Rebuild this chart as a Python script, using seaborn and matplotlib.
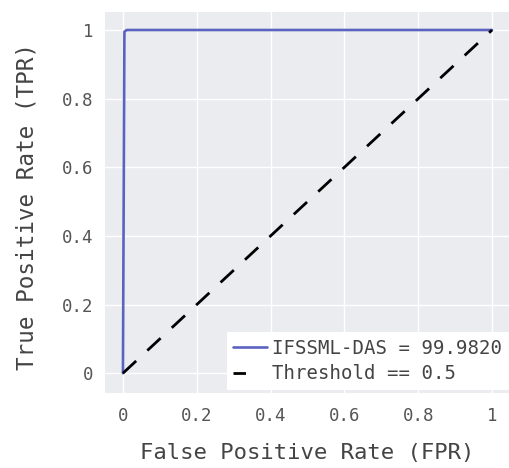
import numpy as np
import pandas as pd
import matplotlib
matplotlib.use('Agg')
import matplotlib.pyplot as plt
import seaborn as sns

# ROC curve
fpr = [0.0, 0.004, 0.01, 0.05, 1.0]
tpr = [0.0, 0.995, 1.0, 1.0, 1.0]
thr_x = [0.0, 1.0]
thr_y = [0.0, 1.0]
model_label = 'IFSSML-DAS = 99.9820'
thr_label = 'Threshold == 0.5'
ticks = [0, 0.2, 0.4, 0.6, 0.8, 1]
tick_labels = ['0', '0.2', '0.4', '0.6', '0.8', '1']

sns.set_theme(style='darkgrid')
plt.rcParams['font.family'] = ['DejaVu Sans Mono', 'DejaVu Sans']

roc = pd.DataFrame({'fpr': fpr, 'tpr': tpr})
diag = pd.DataFrame({'x': thr_x, 'y': thr_y})

fig = plt.figure(figsize=(5.09, 4.68), dpi=100)
ax = fig.add_axes([0.206, 0.160, 0.794, 0.814])
ax.set_facecolor('#ebecef')

sns.lineplot(data=roc, x='fpr', y='tpr', ax=ax, color='#5b62c0', linewidth=1.9,
             sort=False, label=model_label)
sns.lineplot(data=diag, x='x', y='y', ax=ax, color='black', linewidth=2.0,
             sort=False, label=thr_label)
ax.lines[1].set_dashes((6.5, 5.5))

ax.set_xlim(-0.049, 1.046)
ax.set_ylim(-0.058, 1.052)
ax.set_xticks(ticks)
ax.set_xticklabels(tick_labels)
ax.set_yticks(ticks)
ax.set_yticklabels(tick_labels)
ax.grid(True, color='white', linewidth=1.0)
for s in ax.spines.values():
    s.set_visible(False)
ax.tick_params(axis='both', which='major', length=4, width=1, color='#999999',
               labelsize=12.5, labelcolor='#555555', pad=4)
ax.tick_params(axis='x', pad=6)

ax.set_xlabel('False Positive Rate (FPR)', fontsize=16, color='#444444', labelpad=13)
ax.set_ylabel('True Positive Rate (TPR)', fontsize=16.3, color='#444444')
ax.yaxis.set_label_coords(-0.163, 0.49)

leg = ax.legend(loc='lower right', bbox_to_anchor=(1.0, 0.008), borderaxespad=0,
                fontsize=13.7, frameon=True, fancybox=False, framealpha=1,
                facecolor='white', edgecolor='none', handlelength=1.75,
                handletextpad=0.3, labelspacing=0.35, borderpad=0.35)
leg.get_lines()[1].set_dashes((4.5, 30))
for t in leg.get_texts():
    t.set_color('#444444')

plt.savefig('out.png', dpi=100)
plt.close()
